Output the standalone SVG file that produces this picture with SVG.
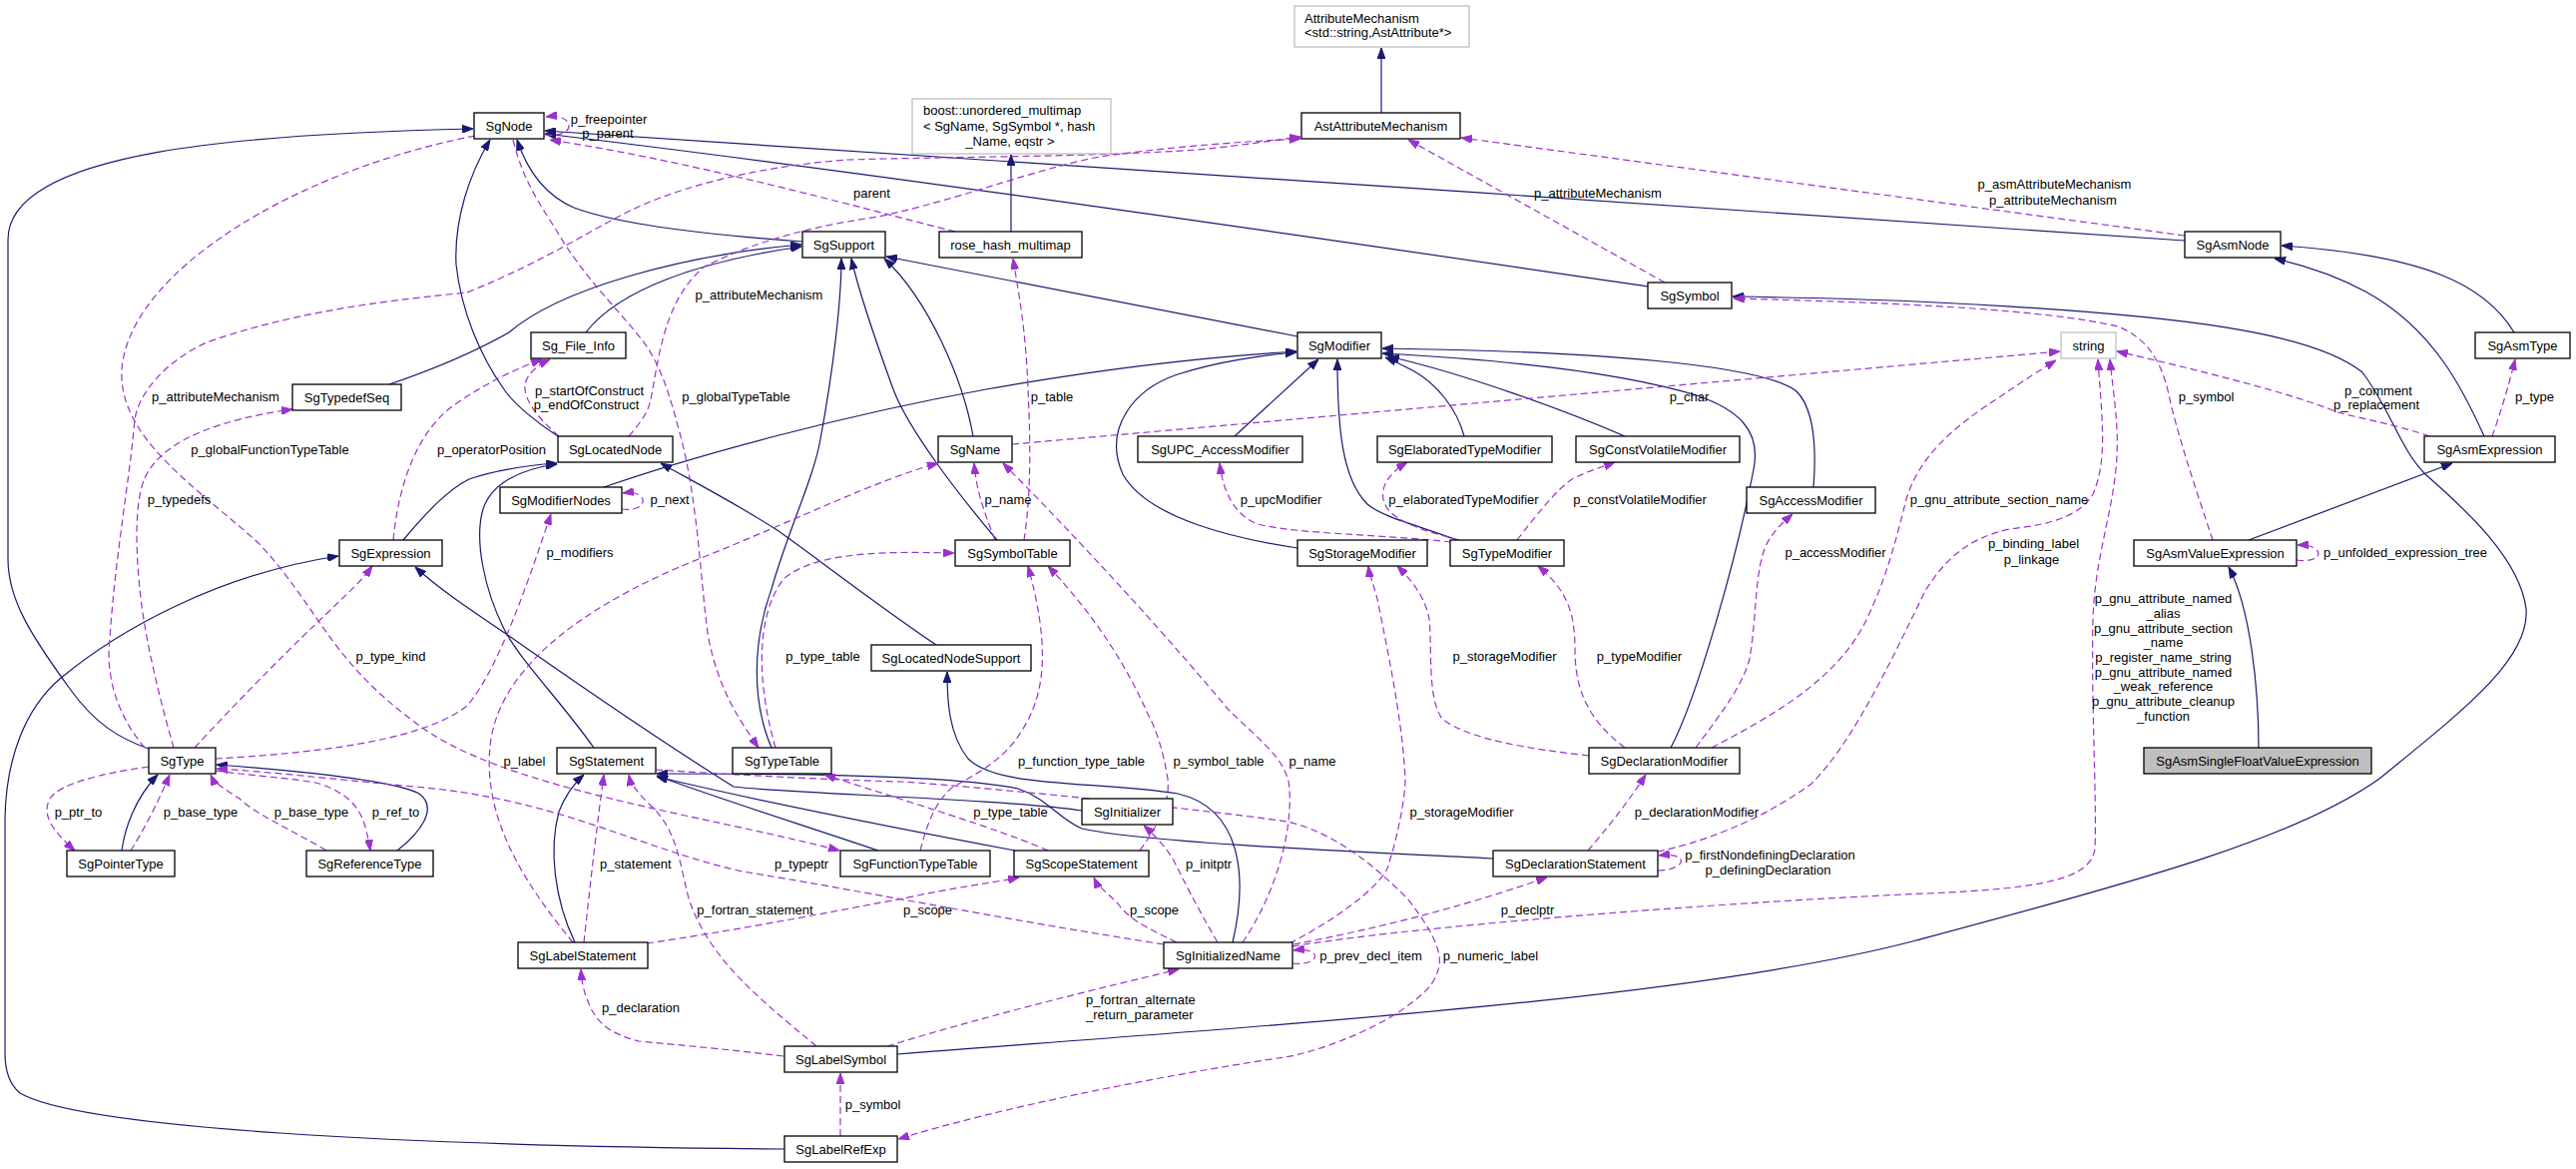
<svg xmlns="http://www.w3.org/2000/svg" width="2581" height="1171" viewBox="0 0 2581 1171">
<defs>
<style>
.n rect{fill:#fff;stroke:#000;stroke-width:1.3}
.g rect{fill:#fff;stroke:#bfbfbf;stroke-width:1.3}
.h rect{fill:#bfbfbf;stroke:#000;stroke-width:1.3}
text{font-family:"Liberation Sans",Arial,Helvetica,sans-serif;font-size:13px;fill:#000}
.n text,.h text,.c{text-anchor:middle}
.b{fill:none;stroke:#191970;stroke-width:1.2;marker-end:url(#ab)}
.p{fill:none;stroke:#9a32cd;stroke-width:1.2;stroke-dasharray:7,4;marker-end:url(#ap)}
</style>
<marker id="ab" viewBox="0 0 11 8" refX="11" refY="4" markerWidth="11" markerHeight="8" markerUnits="userSpaceOnUse" orient="auto"><path d="M0,0L11,4L0,8z" fill="#191970" stroke="#191970" stroke-dasharray="none"/></marker>
<marker id="ap" viewBox="0 0 11 8" refX="11" refY="4" markerWidth="11" markerHeight="8" markerUnits="userSpaceOnUse" orient="auto"><path d="M0,0L11,4L0,8z" fill="#9a32cd" stroke="#9a32cd" stroke-dasharray="none"/></marker>
</defs>
<rect x="0" y="0" width="2581" height="1171" fill="#fff"/>
<g id="connectors">
<path class="b" d="M2263,749 C2263,690 2255,610 2233,568"/>
<path class="b" d="M2253,541 L2457,464"/>
<path class="b" d="M2489,437 C2470,395 2440,330 2370,292 C2340,276 2310,266 2279,259"/>
<path class="b" d="M2519,333 C2490,285 2430,256 2286,246"/>
<path class="b" d="M2189,241 C1700,210 900,150 546,131"/>
<path class="b" d="M1651,287 C1400,250 900,176 546,134"/>
<path class="b" d="M1384,113 L1384,48"/>
<path class="b" d="M1013,232 L1013,155"/>
<path class="b" d="M804,242 C720,236 620,225 575,208 C545,195 528,170 518,140"/>
<path class="b" d="M587,333 C620,290 700,262 803,247"/>
<path class="b" d="M390,385 C440,368 480,350 510,333 C560,290 680,256 803,245"/>
<path class="b" d="M1300,337 L888,257"/>
<path class="b" d="M975,437 C965,380 930,300 886,259"/>
<path class="b" d="M999,541 C960,495 910,430 895,390 C875,335 860,290 853,259"/>
<path class="b" d="M773,749 C752,700 755,640 773,590 C790,530 815,480 822,440 C835,370 843,300 843,259"/>
<path class="b" d="M605,488 C700,455 850,415 988,390 C1100,370 1200,358 1299,352"/>
<path class="b" d="M1237,437 L1321,360"/>
<path class="b" d="M1467,437 C1460,410 1440,385 1417,372 C1405,366 1398,362 1388,358"/>
<path class="b" d="M1628,437 C1570,412 1470,375 1391,357"/>
<path class="b" d="M1817,488 C1820,450 1818,410 1800,392 C1765,365 1600,352 1385,349"/>
<path class="b" d="M1674,749 C1700,700 1740,560 1757,470 C1765,430 1740,410 1700,396 C1620,372 1500,360 1385,354"/>
<path class="b" d="M1300,549 C1240,540 1150,520 1125,475 C1105,430 1135,390 1180,375 C1220,362 1270,355 1299,353"/>
<path class="b" d="M1460,541 C1420,526 1385,518 1370,505 C1345,480 1340,430 1340,360"/>
<path class="b" d="M559,437 C540,425 515,405 505,390 C480,355 462,310 457,265 C455,220 470,175 491,140"/>
<path class="b" d="M404,541 C430,510 450,490 470,480 C500,470 530,466 558,464"/>
<path class="b" d="M595,749 C560,700 520,660 505,630 C485,590 475,540 484,510 C492,485 520,470 558,465"/>
<path class="b" d="M938,646 C870,600 800,545 777,530 C730,500 690,480 662,464"/>
<path class="b" d="M149,750 C120,740 95,725 70,690 C30,635 8,600 8,560 L8,240 C8,150 250,134 474,129"/>
<path class="b" d="M122,852 C125,830 135,800 158,776"/>
<path class="b" d="M398,852 C420,835 440,810 420,795 C390,780 270,770 217,766"/>
<path class="b" d="M576,944 C555,900 550,850 560,813 C567,795 575,785 585,776"/>
<path class="b" d="M1017,852 C900,830 750,800 658,778"/>
<path class="b" d="M880,852 C800,825 720,800 658,777"/>
<path class="b" d="M1496,860 C1400,855 1150,845 1084,830 C1060,820 1050,800 1020,790 C950,775 750,775 658,775"/>
<path class="b" d="M1084,812 C1000,800 790,795 735,788 C690,760 600,700 510,637 C470,610 440,590 416,568"/>
<path class="b" d="M786,1151 C400,1148 80,1130 20,1095 C8,1085 5,1070 5,1055 L5,820 C6,760 25,710 60,680 C120,630 220,575 339,557"/>
<path class="b" d="M1235,944 C1250,880 1245,810 1180,795 C1100,782 1000,790 970,760 C950,735 949,700 949,673"/>
<path class="b" d="M899,1056 C1300,1025 1700,1000 1920,942 C2150,880 2300,840 2384,780 C2470,710 2535,660 2531,610 C2525,560 2470,510 2430,475 C2405,450 2395,410 2367,373 C2320,335 2200,315 1920,302 C1850,299 1800,298 1736,297"/>
<path class="p" d="M546,135 C578,139 578,113 547,117"/>
<path class="p" d="M957,232 C850,205 700,163 551,140"/>
<path class="p" d="M1026,541 C1034,490 1032,430 1030,390 C1028,330 1020,290 1015,259"/>
<path class="p" d="M997,541 C985,510 978,490 976,464"/>
<path class="p" d="M174,749 C160,700 145,640 140,590 C135,540 135,490 150,470 C170,440 220,420 293,410"/>
<path class="p" d="M145,749 C120,720 105,680 110,640 C115,560 130,480 135,420 C140,390 170,360 207,343 C300,310 400,300 468,293 C550,260 600,225 640,207 C700,180 780,165 850,160 C950,157 1100,157 1200,150 C1250,145 1280,140 1303,137"/>
<path class="p" d="M630,437 C645,420 650,410 652,400 C660,360 665,300 706,267 C740,250 790,230 880,217 C960,200 1020,175 1096,158 C1160,148 1240,142 1303,139"/>
<path class="p" d="M476,136 C300,170 130,270 122,370 C118,440 200,490 260,545 C320,610 330,660 415,723 C500,790 700,815 841,852"/>
<path class="p" d="M514,140 C525,185 545,210 560,235 C590,285 630,320 650,350 C665,375 672,400 680,430 C700,500 702,590 710,640 C720,690 740,720 760,749"/>
<path class="p" d="M394,541 C400,480 420,430 456,405 C485,385 515,370 543,360"/>
<path class="p" d="M560,437 C540,420 524,400 526,385 C528,375 538,366 551,360"/>
<path class="p" d="M623,510 C650,514 652,490 624,494"/>
<path class="p" d="M216,760 C300,755 420,745 468,707 C500,670 530,580 552,515"/>
<path class="p" d="M195,749 C240,700 300,640 327,615 C345,597 360,585 373,567"/>
<path class="p" d="M574,944 C530,890 480,820 492,740 C505,660 600,600 700,560 C800,520 880,480 940,464"/>
<path class="p" d="M777,749 C760,690 755,620 785,580 C820,550 900,553 956,554"/>
<path class="p" d="M922,852 C930,820 940,800 955,788 C990,770 1010,755 1025,730 C1050,690 1050,640 1030,567"/>
<path class="p" d="M1142,852 C1165,820 1172,800 1170,780 C1165,750 1158,730 1150,715 C1130,670 1100,620 1050,567"/>
<path class="p" d="M1245,944 C1275,900 1295,840 1292,790 C1290,760 1260,740 1230,710 C1180,650 1100,560 1005,464"/>
<path class="p" d="M1454,543 C1380,535 1300,535 1260,525 C1235,515 1225,490 1222,464"/>
<path class="p" d="M1462,541 C1420,530 1390,520 1386,500 C1383,485 1395,472 1410,463"/>
<path class="p" d="M1520,541 C1540,515 1560,490 1575,480 C1590,472 1605,468 1618,463"/>
<path class="p" d="M1699,749 C1720,720 1745,690 1753,660 C1760,620 1758,570 1770,545 C1778,530 1788,522 1796,515"/>
<path class="p" d="M1592,757 C1530,750 1470,740 1445,720 C1430,700 1435,650 1432,620 C1428,600 1418,585 1400,567"/>
<path class="p" d="M1628,749 C1590,720 1578,690 1578,650 C1578,610 1568,590 1541,567"/>
<path class="p" d="M1715,749 C1780,715 1840,680 1869,623 C1890,580 1900,540 1910,500 C1925,450 1970,420 2000,400 C2025,383 2045,370 2060,361"/>
<path class="p" d="M1661,853 C1700,845 1760,825 1815,785 C1860,740 1900,650 1930,590 C1950,560 1970,540 2013,530 C2060,525 2085,515 2097,495 C2112,460 2106,420 2102,360"/>
<path class="p" d="M1661,872 C1692,871 1692,853 1662,857"/>
<path class="p" d="M1295,948 C1400,930 1700,905 1930,895 C2050,890 2095,880 2099,850 C2101,800 2095,700 2097,620 C2099,560 2115,520 2120,470 C2124,430 2118,400 2114,360"/>
<path class="p" d="M1295,965 C1325,968 1325,948 1296,952"/>
<path class="p" d="M1296,946 C1380,930 1460,910 1550,879"/>
<path class="p" d="M1292,945 C1340,920 1380,890 1390,870 C1400,840 1408,800 1408,780 C1405,720 1390,650 1380,600 C1376,585 1372,575 1371,567"/>
<path class="p" d="M1591,852 C1610,830 1630,805 1649,776"/>
<path class="p" d="M585,944 C590,900 595,850 605,776"/>
<path class="p" d="M648,945 C750,930 850,910 905,900 C950,890 990,885 1021,879"/>
<path class="p" d="M1179,944 C1150,930 1130,920 1120,905 C1110,895 1100,888 1096,879"/>
<path class="p" d="M1220,944 C1200,910 1185,880 1175,860 C1165,845 1155,835 1146,827"/>
<path class="p" d="M1166,946 C1000,920 850,890 744,873 C640,850 560,800 415,788 C330,780 270,773 217,770"/>
<path class="p" d="M818,1048 C760,1000 710,960 690,900 C680,860 678,830 650,805 C640,795 632,786 630,776"/>
<path class="p" d="M785,1058 C720,1050 660,1045 640,1043 C610,1035 600,1025 592,1010 C585,995 583,985 582,971"/>
<path class="p" d="M889,1048 C980,1020 1080,995 1181,971"/>
<path class="p" d="M842,1138 L842,1075"/>
<path class="p" d="M657,771 C750,777 850,782 905,783 C1000,790 1200,810 1290,823 C1340,835 1380,870 1410,900 C1430,925 1445,950 1442,967 C1438,990 1420,1000 1400,1015 C1350,1045 1300,1058 1280,1060 C1150,1080 1000,1110 900,1141"/>
<path class="p" d="M1050,852 C1000,830 900,800 826,776"/>
<path class="p" d="M2217,541 C2200,490 2180,430 2173,395 C2165,360 2150,338 2122,327 C2050,310 1900,303 1737,299"/>
<path class="p" d="M2434,437 C2400,425 2360,418 2342,413 C2300,395 2200,370 2121,352"/>
<path class="p" d="M2497,437 C2505,415 2514,385 2520,360"/>
<path class="p" d="M2301,561 C2330,565 2330,545 2302,546"/>
<path class="p" d="M2189,236 L1464,138"/>
<path class="p" d="M1668,283 L1411,140"/>
<path class="p" d="M1014,445 L2064,352"/>
<path class="p" d="M149,768 C100,775 60,785 50,800 C42,815 50,830 75,852"/>
<path class="p" d="M131,852 C145,830 160,800 170,776"/>
<path class="p" d="M327,852 C290,830 255,815 240,800 C225,790 215,785 211,776"/>
<path class="p" d="M216,772 C260,778 300,780 320,785 C350,795 360,810 365,825 C368,835 370,845 371,852"/>
</g>
<g id="labels">
<text class="c" x="610" y="123.5">p_freepointer</text>
<text class="c" x="609" y="137.5">p_parent</text>
<text class="c" x="873.5" y="197.5">parent</text>
<text class="c" x="760.5" y="299.5">p_attributeMechanism</text>
<text class="c" x="1601" y="197.5">p_attributeMechanism</text>
<text class="c" x="2058.5" y="188.5">p_asmAttributeMechanism</text>
<text class="c" x="2057" y="204.5">p_attributeMechanism</text>
<text class="c" x="216" y="401.5">p_attributeMechanism</text>
<text class="c" x="590.5" y="395.5">p_startOfConstruct</text>
<text class="c" x="587.5" y="409.5">p_endOfConstruct</text>
<text class="c" x="737.5" y="401.5">p_globalTypeTable</text>
<text class="c" x="1054" y="401.5">p_table</text>
<text class="c" x="1692.5" y="401.5">p_char</text>
<text class="c" x="2210.5" y="401.5">p_symbol</text>
<text class="c" x="2383" y="395.5">p_comment</text>
<text class="c" x="2381" y="409.5">p_replacement</text>
<text class="c" x="2539.5" y="401.5">p_type</text>
<text class="c" x="270.5" y="454.5">p_globalFunctionTypeTable</text>
<text class="c" x="492.5" y="454.5">p_operatorPosition</text>
<text class="c" x="179.5" y="504.5">p_typedefs</text>
<text class="c" x="671" y="504.5">p_next</text>
<text class="c" x="1010" y="504.5">p_name</text>
<text class="c" x="1283.5" y="504.5">p_upcModifier</text>
<text class="c" x="1466.5" y="504.5">p_elaboratedTypeModifier</text>
<text class="c" x="1643" y="504.5">p_constVolatileModifier</text>
<text class="c" x="2003" y="504.5">p_gnu_attribute_section_name</text>
<text class="c" x="2037.5" y="548.5">p_binding_label</text>
<text class="c" x="2035.5" y="564.5">p_linkage</text>
<text class="c" x="581" y="557.5">p_modifiers</text>
<text class="c" x="1839" y="557.5">p_accessModifier</text>
<text class="c" x="2410" y="557.5">p_unfolded_expression_tree</text>
<text class="c" x="2167.5" y="603.5">p_gnu_attribute_named</text>
<text class="c" x="2167.5" y="618.5">_alias</text>
<text class="c" x="2167.5" y="633.5">p_gnu_attribute_section</text>
<text class="c" x="2167.5" y="647.5">_name</text>
<text class="c" x="2167.5" y="662.5">p_register_name_string</text>
<text class="c" x="2167.5" y="677.5">p_gnu_attribute_named</text>
<text class="c" x="2167.5" y="691.5">_weak_reference</text>
<text class="c" x="2167.5" y="706.5">p_gnu_attribute_cleanup</text>
<text class="c" x="2167.5" y="721.5">_function</text>
<text class="c" x="391.5" y="661.5">p_type_kind</text>
<text class="c" x="824.5" y="661.5">p_type_table</text>
<text class="c" x="1507.5" y="661.5">p_storageModifier</text>
<text class="c" x="1642.5" y="661.5">p_typeModifier</text>
<text class="c" x="525.5" y="766.5">p_label</text>
<text class="c" x="1083.5" y="766.5">p_function_type_table</text>
<text class="c" x="1221" y="766.5">p_symbol_table</text>
<text class="c" x="1315" y="766.5">p_name</text>
<text class="c" x="78.5" y="817.5">p_ptr_to</text>
<text class="c" x="201" y="817.5">p_base_type</text>
<text class="c" x="312" y="817.5">p_base_type</text>
<text class="c" x="396.5" y="817.5">p_ref_to</text>
<text class="c" x="1012.5" y="817.5">p_type_table</text>
<text class="c" x="1464.5" y="817.5">p_storageModifier</text>
<text class="c" x="1700" y="817.5">p_declarationModifier</text>
<text class="c" x="1773.5" y="860.5">p_firstNondefiningDeclaration</text>
<text class="c" x="1771.5" y="875.5">p_definingDeclaration</text>
<text x="601" y="869.5">p_statement</text>
<text class="c" x="803" y="869.5">p_typeptr</text>
<text class="c" x="1211" y="869.5">p_initptr</text>
<text class="c" x="756.5" y="915.5">p_fortran_statement</text>
<text class="c" x="929.5" y="915.5">p_scope</text>
<text class="c" x="1156.5" y="915.5">p_scope</text>
<text class="c" x="1530.5" y="915.5">p_declptr</text>
<text class="c" x="1373.5" y="961.5">p_prev_decl_item</text>
<text class="c" x="1493.5" y="961.5">p_numeric_label</text>
<text x="603" y="1013.5">p_declaration</text>
<text x="1088" y="1005.5">p_fortran_alternate</text>
<text x="1088" y="1020.5">_return_parameter</text>
<text class="c" x="874.5" y="1110.5">p_symbol</text>
</g>
<g id="n_AttributeMechanism" class="g"><rect x="1297" y="6" width="175" height="41"/><text x="1307" y="23">AttributeMechanism</text><text x="1307" y="37">&lt;std::string,AstAttribute*&gt;</text></g>
<g id="n_AstAttributeMechanism" class="n"><rect x="1304" y="113" width="159" height="26"/><text x="1383.5" y="130.5">AstAttributeMechanism</text></g>
<g id="n_boost_unordered_multimap" class="g"><rect x="914" y="99" width="199" height="55"/><text x="925" y="115">boost::unordered_multimap</text><text x="925" y="130.5">&lt; SgName, SgSymbol *, hash</text><text x="1012" y="145.5" text-anchor="middle">_Name, eqstr &gt;</text></g>
<g id="n_SgNode" class="n"><rect x="475" y="113" width="70" height="26"/><text x="510" y="130.5">SgNode</text></g>
<g id="n_SgSupport" class="n"><rect x="804" y="232" width="83" height="26"/><text x="845.5" y="249.5">SgSupport</text></g>
<g id="n_rose_hash_multimap" class="n"><rect x="941" y="232" width="143" height="26"/><text x="1012.5" y="249.5">rose_hash_multimap</text></g>
<g id="n_SgAsmNode" class="n"><rect x="2189" y="232" width="96" height="26"/><text x="2237" y="249.5">SgAsmNode</text></g>
<g id="n_SgSymbol" class="n"><rect x="1651" y="283" width="84" height="26"/><text x="1693" y="300.5">SgSymbol</text></g>
<g id="n_Sg_File_Info" class="n"><rect x="532" y="333" width="95" height="26"/><text x="579.5" y="350.5">Sg_File_Info</text></g>
<g id="n_SgModifier" class="n"><rect x="1300" y="333" width="84" height="26"/><text x="1342" y="350.5">SgModifier</text></g>
<g id="n_string" class="g"><rect x="2065" y="333" width="55" height="26"/><text x="2092.5" y="350.5" text-anchor="middle">string</text></g>
<g id="n_SgAsmType" class="n"><rect x="2480" y="333" width="95" height="26"/><text x="2527.5" y="350.5">SgAsmType</text></g>
<g id="n_SgTypedefSeq" class="n"><rect x="293" y="385" width="109" height="26"/><text x="347.5" y="402.5">SgTypedefSeq</text></g>
<g id="n_SgLocatedNode" class="n"><rect x="559" y="437" width="115" height="26"/><text x="616.5" y="454.5">SgLocatedNode</text></g>
<g id="n_SgName" class="n"><rect x="940" y="437" width="74" height="26"/><text x="977" y="454.5">SgName</text></g>
<g id="n_SgUPC_AccessModifier" class="n"><rect x="1140" y="437" width="165" height="26"/><text x="1222.5" y="454.5">SgUPC_AccessModifier</text></g>
<g id="n_SgElaboratedTypeModifier" class="n"><rect x="1380" y="437" width="175" height="26"/><text x="1467.5" y="454.5">SgElaboratedTypeModifier</text></g>
<g id="n_SgConstVolatileModifier" class="n"><rect x="1579" y="437" width="164" height="26"/><text x="1661" y="454.5">SgConstVolatileModifier</text></g>
<g id="n_SgAsmExpression" class="n"><rect x="2429" y="437" width="131" height="26"/><text x="2494.5" y="454.5">SgAsmExpression</text></g>
<g id="n_SgModifierNodes" class="n"><rect x="501" y="488" width="122" height="26"/><text x="562" y="505.5">SgModifierNodes</text></g>
<g id="n_SgAccessModifier" class="n"><rect x="1750" y="488" width="129" height="26"/><text x="1814.5" y="505.5">SgAccessModifier</text></g>
<g id="n_SgExpression" class="n"><rect x="340" y="541" width="103" height="26"/><text x="391.5" y="558.5">SgExpression</text></g>
<g id="n_SgSymbolTable" class="n"><rect x="957" y="541" width="115" height="26"/><text x="1014.5" y="558.5">SgSymbolTable</text></g>
<g id="n_SgStorageModifier" class="n"><rect x="1300" y="541" width="130" height="26"/><text x="1365" y="558.5">SgStorageModifier</text></g>
<g id="n_SgTypeModifier" class="n"><rect x="1453" y="541" width="114" height="26"/><text x="1510" y="558.5">SgTypeModifier</text></g>
<g id="n_SgAsmValueExpression" class="n"><rect x="2138" y="541" width="163" height="26"/><text x="2219.5" y="558.5">SgAsmValueExpression</text></g>
<g id="n_SgLocatedNodeSupport" class="n"><rect x="873" y="646" width="160" height="26"/><text x="953" y="663.5">SgLocatedNodeSupport</text></g>
<g id="n_SgType" class="n"><rect x="149" y="749" width="67" height="26"/><text x="182.5" y="766.5">SgType</text></g>
<g id="n_SgStatement" class="n"><rect x="558" y="749" width="99" height="26"/><text x="607.5" y="766.5">SgStatement</text></g>
<g id="n_SgTypeTable" class="n"><rect x="734" y="749" width="99" height="26"/><text x="783.5" y="766.5">SgTypeTable</text></g>
<g id="n_SgDeclarationModifier" class="n"><rect x="1592" y="749" width="151" height="26"/><text x="1667.5" y="766.5">SgDeclarationModifier</text></g>
<g id="n_SgAsmSingleFloatValueExpression" class="h"><rect x="2148" y="749" width="228" height="26"/><text x="2262" y="766.5">SgAsmSingleFloatValueExpression</text></g>
<g id="n_SgInitializer" class="n"><rect x="1084" y="800" width="91" height="26"/><text x="1129.5" y="817.5">SgInitializer</text></g>
<g id="n_SgPointerType" class="n"><rect x="67" y="852" width="108" height="26"/><text x="121" y="869.5">SgPointerType</text></g>
<g id="n_SgReferenceType" class="n"><rect x="307" y="852" width="127" height="26"/><text x="370.5" y="869.5">SgReferenceType</text></g>
<g id="n_SgFunctionTypeTable" class="n"><rect x="842" y="852" width="150" height="26"/><text x="917" y="869.5">SgFunctionTypeTable</text></g>
<g id="n_SgScopeStatement" class="n"><rect x="1016" y="852" width="135" height="26"/><text x="1083.5" y="869.5">SgScopeStatement</text></g>
<g id="n_SgDeclarationStatement" class="n"><rect x="1496" y="852" width="165" height="26"/><text x="1578.5" y="869.5">SgDeclarationStatement</text></g>
<g id="n_SgLabelStatement" class="n"><rect x="519" y="944" width="130" height="26"/><text x="584" y="961.5">SgLabelStatement</text></g>
<g id="n_SgInitializedName" class="n"><rect x="1166" y="944" width="129" height="26"/><text x="1230.5" y="961.5">SgInitializedName</text></g>
<g id="n_SgLabelSymbol" class="n"><rect x="786" y="1048" width="113" height="26"/><text x="842.5" y="1065.5">SgLabelSymbol</text></g>
<g id="n_SgLabelRefExp" class="n"><rect x="786" y="1138" width="113" height="26"/><text x="842.5" y="1155.5">SgLabelRefExp</text></g>
</svg>
